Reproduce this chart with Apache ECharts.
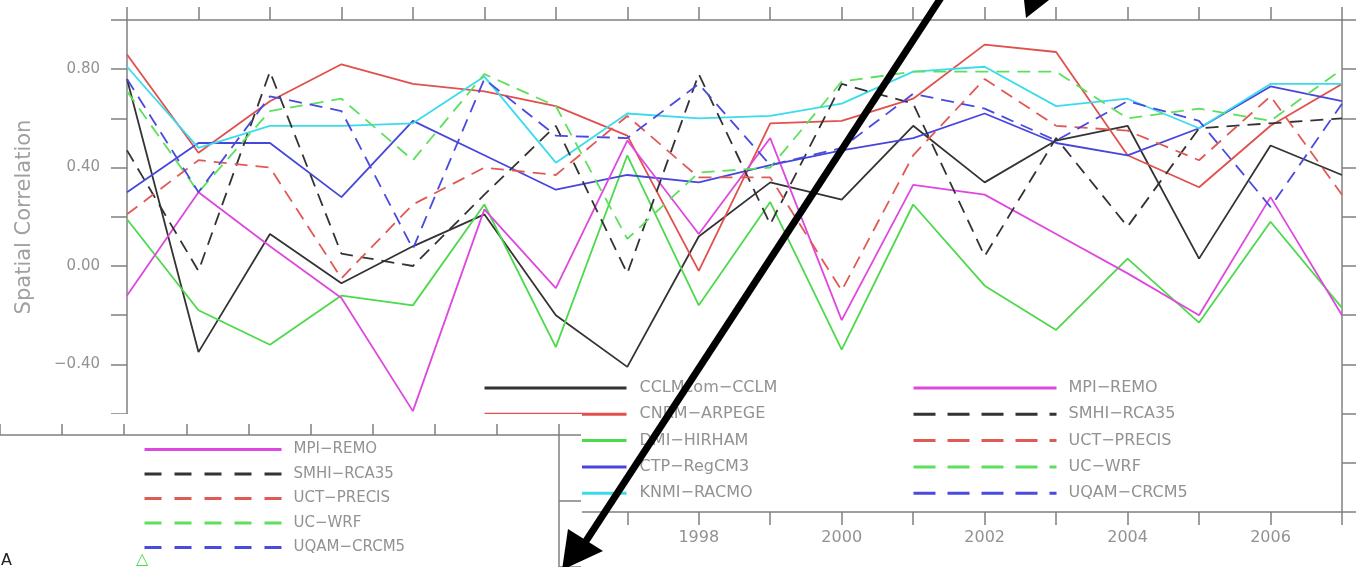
<!DOCTYPE html>
<html>
<head>
<meta charset="utf-8">
<script src="https://cdn.jsdelivr.net/npm/echarts@6/dist/echarts.min.js"></script>
<style>
html,body{margin:0;padding:0;background:#fff;}
#chart{width:1356px;height:567px;}
</style>
</head>
<body>
<div id="chart"></div>
<script>
// ---- data ----
const years = [1990,1991,1992,1993,1994,1995,1996,1997,1998,1999,2000,2001,2002,2003,2004,2005,2006,2007];

const cclmValues  = [0.76,-0.35,0.13,-0.07,0.08,0.21,-0.20,-0.41,0.12,0.34,0.27,0.57,0.34,0.51,0.57,0.03,0.49,0.37];
const cnrmValues  = [0.86,0.46,0.67,0.82,0.74,0.71,0.65,0.53,-0.02,0.58,0.59,0.68,0.90,0.87,0.45,0.32,0.57,0.74];
const dmiValues   = [0.19,-0.18,-0.32,-0.12,-0.16,0.25,-0.33,0.45,-0.16,0.26,-0.34,0.25,-0.08,-0.26,0.03,-0.23,0.18,-0.17];
const ctpValues   = [0.30,0.50,0.50,0.28,0.59,0.45,0.31,0.37,0.34,0.41,0.47,0.52,0.62,0.50,0.45,0.56,0.73,0.67];
const knmiValues  = [0.81,0.48,0.57,0.57,0.58,0.77,0.42,0.62,0.60,0.61,0.66,0.79,0.81,0.65,0.68,0.56,0.74,0.74];
const mpiValues   = [-0.12,0.30,0.08,-0.13,-0.59,0.23,-0.09,0.51,0.13,0.52,-0.22,0.33,0.29,0.13,-0.03,-0.20,0.28,-0.20];
const smhiValues  = [0.47,-0.02,0.79,0.05,0.00,0.29,0.57,-0.03,0.78,0.17,0.74,0.66,0.04,0.52,0.16,0.56,0.58,0.60];
const uctValues   = [0.21,0.43,0.40,-0.05,0.25,0.40,0.37,0.61,0.36,0.36,-0.10,0.45,0.76,0.57,0.55,0.43,0.69,0.29];
const ucwrfValues = [0.71,0.30,0.63,0.68,0.43,0.78,0.65,0.11,0.38,0.40,0.75,0.79,0.79,0.79,0.60,0.64,0.59,0.80];
const uqamValues  = [0.76,0.30,0.69,0.63,0.07,0.76,0.53,0.52,0.74,0.41,0.48,0.70,0.64,0.51,0.67,0.59,0.24,0.66];

const seriesNames = ['CCLMcom−CCLM','CNRM−ARPEGE','DMI−HIRHAM','CTP−RegCM3','KNMI−RACMO',
                     'MPI−REMO','SMHI−RCA35','UCT−PRECIS','UC−WRF','UQAM−CRCM5'];
const seriesValues = [cclmValues,cnrmValues,dmiValues,ctpValues,knmiValues,
                      mpiValues,smhiValues,uctValues,ucwrfValues,uqamValues];
const seriesColors = ['#333333','#e0504c','#4cd94c','#4646dc','#3adcec',
                      '#de48de','#333333','#e05a55','#5ce05c','#4a4ade'];
const seriesDashed = [false,false,false,false,false,false,true,true,true,true];
const yAxisTitle = 'Spatial Correlation';

// ---- chart ----
const chart = echarts.init(document.getElementById('chart'), null, {renderer:'canvas'});
const axisGrey = '#808080';
const textGrey = '#929292';
const fontFam = 'DejaVu Sans';

const series = seriesNames.map((name,k)=>({
  name: name,
  type: 'line',
  xAxisIndex: 0, yAxisIndex: 0,
  symbol: 'none',
  color: seriesColors[k],
  lineStyle: {color: seriesColors[k], width: 1.8, type: seriesDashed[k] ? [13,8] : 'solid'},
  data: years.map((y,i)=>[y, seriesValues[k][i]]),
  z: 2
}));

function legendData(names, dashPattern, width){
  return names.map(n=>{
    const k = seriesNames.indexOf(n);
    return {name:n, itemStyle:{opacity:0},
            lineStyle:{width:width, type: seriesDashed[k] ? dashPattern : 'solid'}};
  });
}

const option = {
  animation: false,
  backgroundColor: '#ffffff',
  grid: [
    {left:127, right:14, top:20, bottom:55, containLabel:false},
    {left:-65, top:435, width:624, height:154, containLabel:false}
  ],
  xAxis: [
    {gridIndex:0, type:'value', min:1990, max:2007, interval:1, position:'bottom',
     axisLine:{onZero:false, lineStyle:{color:axisGrey, width:1.5}},
     axisTick:{length:13, lineStyle:{color:axisGrey, width:1.5}},
     splitLine:{show:false},
     axisLabel:{margin:18, color:textGrey, fontSize:16, fontFamily:fontFam,
                formatter:v=> (v%2===0 ? String(v) : '')}},
    {gridIndex:0, type:'value', min:1990, max:2007, interval:1, position:'top',
     axisLine:{onZero:false, lineStyle:{color:axisGrey, width:1.5}},
     axisTick:{length:13, lineStyle:{color:axisGrey, width:1.5}},
     splitLine:{show:false}, axisLabel:{show:false}},
    {gridIndex:1, type:'value', min:0, max:9, interval:1, position:'top', z:60,
     axisLine:{onZero:false, lineStyle:{color:axisGrey, width:1.5}},
     axisTick:{length:11, lineStyle:{color:axisGrey, width:1.5}},
     splitLine:{show:false}, axisLabel:{show:false}}
  ],
  yAxis: [
    {gridIndex:0, type:'value', min:-1, max:1, interval:0.2, position:'left',
     axisLine:{show:true, onZero:false, lineStyle:{color:axisGrey, width:1.5}},
     axisTick:{show:true, length:16, lineStyle:{color:axisGrey, width:1.5}},
     splitLine:{show:false},
     axisLabel:{margin:27, color:textGrey, fontSize:15, fontFamily:fontFam,
       formatter:v=>{
         const r = Math.round(v*10);
         if (Math.abs(r)%4!==0 || Math.abs(r)===10) return '';
         const s = (Math.abs(r)/10).toFixed(2);
         return r<0 ? '−'+s : s;
       }}},
    {gridIndex:0, type:'value', min:-1, max:1, interval:0.2, position:'right',
     axisLine:{show:true, onZero:false, lineStyle:{color:axisGrey, width:1.5}},
     axisTick:{show:true, length:14, lineStyle:{color:axisGrey, width:1.5}},
     splitLine:{show:false}, axisLabel:{show:false}},
    {gridIndex:1, type:'value', min:0, max:2, interval:1, position:'right', z:60,
     axisLine:{show:true, onZero:false, lineStyle:{color:axisGrey, width:1.5}},
     axisTick:{show:true, length:22, lineStyle:{color:axisGrey, width:1.5}},
     splitLine:{show:false}, axisLabel:{show:false}}
  ],
  legend: [
    {orient:'vertical', left:483, top:380, padding:0, itemWidth:142, itemHeight:14, itemGap:10.3,
     selectedMode:false, itemStyle:{opacity:0},
     textStyle:{color:textGrey, fontSize:16, fontFamily:fontFam, padding:[0,0,0,8]},
     data: legendData(seriesNames.slice(0,5), [22,12], 3)},
    {orient:'vertical', left:912, top:380, padding:0, itemWidth:143, itemHeight:14, itemGap:10.3,
     selectedMode:false, itemStyle:{opacity:0},
     textStyle:{color:textGrey, fontSize:16, fontFamily:fontFam, padding:[0,0,0,7]},
     data: legendData(seriesNames.slice(5,10), [22,12], 3)},
    {orient:'vertical', left:143, top:442, padding:0, itemWidth:137, itemHeight:14, itemGap:9.5,
     selectedMode:false, z:60, itemStyle:{opacity:0},
     textStyle:{color:textGrey, fontSize:15, fontFamily:fontFam, padding:[0,0,0,7]},
     data: legendData(seriesNames.slice(5,10), [17,13], 3)}
  ],
  graphic: [
    {type:'text', x:25, y:217, rotation:Math.PI/2, z:5,
     style:{text:yAxisTitle, fill:'#a0a0a0', font:'21px "DejaVu Sans"', textAlign:'center', textVerticalAlign:'middle'}},
    {type:'rect', shape:{x:0, y:414, width:582, height:160}, style:{fill:'#ffffff'}, z:50},
    {type:'text', x:1, y:553, z:60, style:{text:'A', fill:'#222', font:'16px "DejaVu Sans"', textVerticalAlign:'top'}},
    {type:'text', x:136, y:552, z:60, style:{text:'△', fill:'#4cd94c', font:'16px "DejaVu Sans"', textVerticalAlign:'top'}},
    {type:'line', shape:{x1:946, y1:-10, x2:586, y2:541}, style:{stroke:'#000', lineWidth:7}, z:100},
    {type:'polygon', shape:{points:[[562,570],[568,529],[603,551]]}, style:{fill:'#000'}, z:100},
    {type:'polygon', shape:{points:[[1024,0],[1049,0],[1026,18]]}, style:{fill:'#000'}, z:100}
  ],
  series: series
};
chart.setOption(option);
</script>
</body>
</html>
